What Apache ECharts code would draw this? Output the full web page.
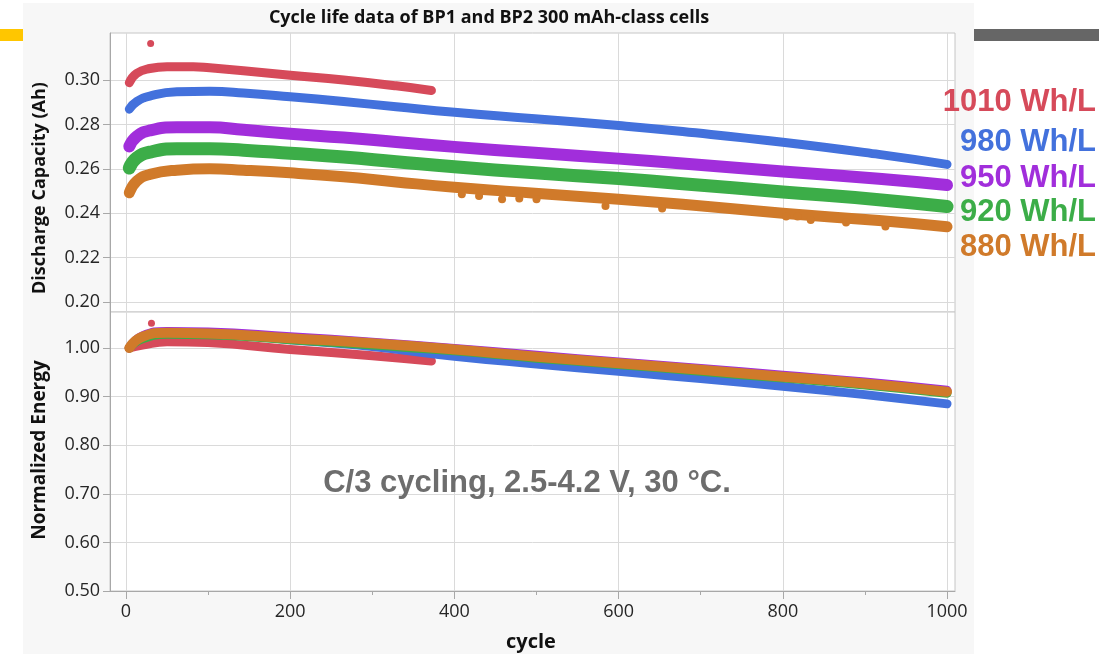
<!DOCTYPE html>
<html>
<head>
<meta charset="utf-8">
<script src="https://cdn.jsdelivr.net/npm/echarts@6/dist/echarts.min.js"></script>
<style>
html,body{margin:0;padding:0;background:#fff;}
#chart{width:1099px;height:654px;}
</style>
</head>
<body>
<div id="chart"></div>
<script>
// ---- tick labels ----
const xMajor = [0, 200, 400, 600, 800, 1000];
const xMinor = [100, 300, 500, 700, 900];
const capTicks = [0.20, 0.22, 0.24, 0.26, 0.28, 0.30];
const energyTicks = [0.50, 0.60, 0.70, 0.80, 0.90, 1.00];

// ---- series names ----
const seriesNames = ['1010 Wh/L', '980 Wh/L', '950 Wh/L', '920 Wh/L', '880 Wh/L'];

// ---- discharge capacity (Ah) ----
const capCyclesRed = [4, 13, 29, 50, 82, 102, 143, 200, 265, 329, 372];
const capRed = [0.2988, 0.3030, 0.3052, 0.3060, 0.3060, 0.3055, 0.3042, 0.3022, 0.3000, 0.2974, 0.2953];
const capCycles = [4, 13, 29, 62, 102, 143, 200, 265, 329, 400, 498, 600, 678, 800, 917, 1000];
const capBlue   = [0.2869, 0.2903, 0.2928, 0.2947, 0.2949, 0.2942, 0.2925, 0.2903, 0.2880, 0.2855, 0.2826, 0.2795, 0.2768, 0.2720, 0.2665, 0.2620];
const capPurple = [0.2701, 0.2746, 0.2773, 0.2787, 0.2787, 0.2776, 0.2758, 0.2741, 0.2721, 0.2699, 0.2672, 0.2646, 0.2624, 0.2588, 0.2555, 0.2527];
const capGreen  = [0.2604, 0.2649, 0.2675, 0.2690, 0.2690, 0.2684, 0.2670, 0.2653, 0.2632, 0.2609, 0.2582, 0.2556, 0.2533, 0.2496, 0.2461, 0.2430];
const capOrange = [0.2492, 0.2545, 0.2575, 0.2594, 0.2600, 0.2594, 0.2582, 0.2564, 0.2541, 0.2517, 0.2490, 0.2463, 0.2440, 0.2400, 0.2367, 0.2339];
// outlier points
const capRedOutCycles = [30];
const capRedOut = [0.3165];
const capOrangeOutCycles = [409, 430, 458, 479, 500, 584, 653, 804, 818, 834, 877, 925];
const capOrangeOut = [0.2485, 0.2478, 0.2463, 0.2466, 0.2463, 0.2433, 0.2421, 0.2385, 0.2385, 0.2370, 0.2358, 0.2340];

// ---- normalized energy ----
const enCyclesRed = [4, 20, 50, 100, 200, 300, 372];
const enRed = [1.000, 1.006, 1.013, 1.011, 0.997, 0.984, 0.973];
const enCycles = [4, 20, 50, 100, 200, 300, 400, 500, 600, 700, 800, 900, 1000];
const enBlue   = [1.000, 1.021, 1.030, 1.029, 1.017, 1.003, 0.983, 0.967, 0.952, 0.937, 0.921, 0.904, 0.885];
const enGreen  = [1.000, 1.019, 1.028, 1.027, 1.017, 1.006, 0.994, 0.979, 0.966, 0.952, 0.938, 0.924, 0.907];
const enPurple = [1.000, 1.025, 1.034, 1.033, 1.023, 1.012, 0.999, 0.985, 0.971, 0.958, 0.944, 0.930, 0.913];
const enOrange = [1.000, 1.023, 1.0315, 1.030, 1.020, 1.0097, 0.997, 0.982, 0.9685, 0.955, 0.941, 0.927, 0.910];
const enRedOutCycles = [31];
const enRedOut = [1.051];

const colors = ['#d64a5a', '#4371dc', '#a12edb', '#3cad48', '#d07a2a'];

function pairs(xs, ys) { return xs.map((x, i) => [x, ys[i]]); }

const chart = echarts.init(document.getElementById('chart'), null, {renderer: 'canvas'});

const FONT = 'Open Sans';
const XMIN = -19.5, XMAX = 1009.7;

function band(name, xi, yi, data, color, width, z) {
  return {
    name: name, type: 'line', xAxisIndex: xi, yAxisIndex: yi,
    data: data, showSymbol: false, smooth: 0.5,
    lineStyle: {color: color, width: width, cap: 'round', join: 'round'},
    itemStyle: {color: color}, z: z, silent: true
  };
}
function dots(name, xi, yi, data, color, size, z) {
  return {
    name: name, type: 'scatter', xAxisIndex: xi, yAxisIndex: yi,
    data: data, symbolSize: size, itemStyle: {color: color, opacity: 1}, z: z, silent: true
  };
}
function txt(x, y, text, size, color, align, rot, family) {
  const el = {type: 'text', z: 100, x: x, y: y,
    style: {text: text, fontSize: size, fontWeight: 'bold', fontFamily: family || FONT,
            fill: color, align: align, verticalAlign: 'middle'}};
  if (rot) el.rotation = rot;
  return el;
}

const option = {
  animation: false,
  backgroundColor: '#ffffff',
  textStyle: {fontFamily: FONT},
  graphic: [
    {type: 'rect', z: -100, shape: {x: 23, y: 3, width: 951, height: 651}, style: {fill: '#f7f7f7'}},
    {type: 'rect', z: -100, shape: {x: 0, y: 29, width: 23, height: 12}, style: {fill: '#ffc600'}},
    {type: 'rect', z: -100, shape: {x: 974, y: 29, width: 125, height: 12}, style: {fill: '#666666'}},
    txt(489, 18, 'Cycle life data of BP1 and BP2 300 mAh-class cells', 18, '#111', 'center'),
    txt(40, 188, 'Discharge Capacity (Ah)', 18, '#111', 'center', Math.PI / 2),
    txt(40, 450, 'Normalized Energy', 19, '#111', 'center', Math.PI / 2),
    txt(531, 642, 'cycle', 20, '#111', 'center'),
    txt(527, 483, 'C/3 cycling, 2.5-4.2 V, 30 °C.', 31, '#6d6d6d', 'center', 0, 'Liberation Sans'),
    txt(1096, 102, seriesNames[0], 31, colors[0], 'right', 0, 'Liberation Sans'),
    txt(1096, 142, seriesNames[1], 31, colors[1], 'right', 0, 'Liberation Sans'),
    txt(1096, 178, seriesNames[2], 31, colors[2], 'right', 0, 'Liberation Sans'),
    txt(1096, 212, seriesNames[3], 31, colors[3], 'right', 0, 'Liberation Sans'),
    txt(1096, 247, seriesNames[4], 31, colors[4], 'right', 0, 'Liberation Sans')
  ],
  grid: [
    {left: 110, top: 33, width: 845, height: 279, show: true, backgroundColor: '#fff', borderColor: '#c6c6c6', borderWidth: 1},
    {left: 110, top: 312, width: 845, height: 279, show: true, backgroundColor: '#fff', borderColor: '#c6c6c6', borderWidth: 1}
  ],
  xAxis: [
    {gridIndex: 0, type: 'value', min: XMIN, max: XMAX,
     axisLine: {show: false}, axisTick: {show: false, customValues: xMajor},
     axisLabel: {show: false, customValues: xMajor},
     splitLine: {show: true, lineStyle: {color: '#dadada', width: 1}}},
    {gridIndex: 1, type: 'value', min: XMIN, max: XMAX,
     axisLine: {show: true, onZero: false, lineStyle: {color: '#a8a8a8', width: 1}},
     axisTick: {show: true, length: 8, customValues: xMajor, lineStyle: {color: '#a8a8a8'}},
     axisLabel: {show: true, customValues: xMajor, margin: 12, color: '#262626', fontSize: 18, fontFamily: FONT,
                 formatter: v => String(v)},
     splitLine: {show: true, lineStyle: {color: '#dadada', width: 1}}},
    {gridIndex: 1, type: 'value', min: XMIN, max: XMAX, position: 'bottom',
     axisLine: {show: false},
     axisTick: {show: true, length: 4, customValues: xMinor, lineStyle: {color: '#a8a8a8'}},
     axisLabel: {show: false, customValues: xMinor},
     splitLine: {show: false}}
  ],
  yAxis: [
    {gridIndex: 0, type: 'value', min: 0.1955, max: 0.3212,
     axisLine: {show: true, onZero: false, lineStyle: {color: '#a8a8a8'}},
     axisTick: {show: true, length: 7, customValues: capTicks, lineStyle: {color: '#a8a8a8'}},
     axisLabel: {show: true, customValues: capTicks, margin: 10, color: '#262626', fontSize: 18, fontFamily: FONT,
                 formatter: v => v.toFixed(2)},
     splitLine: {show: true, lineStyle: {color: '#dadada'}}},
    {gridIndex: 1, type: 'value', min: 0.50, max: 1.074,
     axisLine: {show: true, onZero: false, lineStyle: {color: '#a8a8a8'}},
     axisTick: {show: true, length: 7, customValues: energyTicks, lineStyle: {color: '#a8a8a8'}},
     axisLabel: {show: true, customValues: energyTicks, margin: 10, color: '#262626', fontSize: 18, fontFamily: FONT,
                 formatter: v => v.toFixed(2)},
     splitLine: {show: true, lineStyle: {color: '#dadada'}}}
  ],
  series: [
    band(seriesNames[0], 0, 0, pairs(capCyclesRed, capRed), colors[0], 9, 5),
    band(seriesNames[1], 0, 0, pairs(capCycles, capBlue), colors[1], 9, 5),
    band(seriesNames[2], 0, 0, pairs(capCycles, capPurple), colors[2], 12, 5),
    band(seriesNames[3], 0, 0, pairs(capCycles, capGreen), colors[3], 13, 5),
    band(seriesNames[4], 0, 0, pairs(capCycles, capOrange), colors[4], 11, 5),
    dots(seriesNames[0], 0, 0, pairs(capRedOutCycles, capRedOut), colors[0], 7, 6),
    dots(seriesNames[4], 0, 0, pairs(capOrangeOutCycles, capOrangeOut), colors[4], 8, 6),

    band(seriesNames[0], 1, 1, pairs(enCyclesRed, enRed), colors[0], 9, 5),
    band(seriesNames[1], 1, 1, pairs(enCycles, enBlue), colors[1], 9, 6),
    band(seriesNames[3], 1, 1, pairs(enCycles, enGreen), colors[3], 9, 7),
    band(seriesNames[2], 1, 1, pairs(enCycles, enPurple), colors[2], 9, 8),
    band(seriesNames[4], 1, 1, pairs(enCycles, enOrange), colors[4], 10, 9),
    dots(seriesNames[0], 1, 1, pairs(enRedOutCycles, enRedOut), colors[0], 7, 9)
  ]
};
chart.setOption(option);
</script>
</body>
</html>
